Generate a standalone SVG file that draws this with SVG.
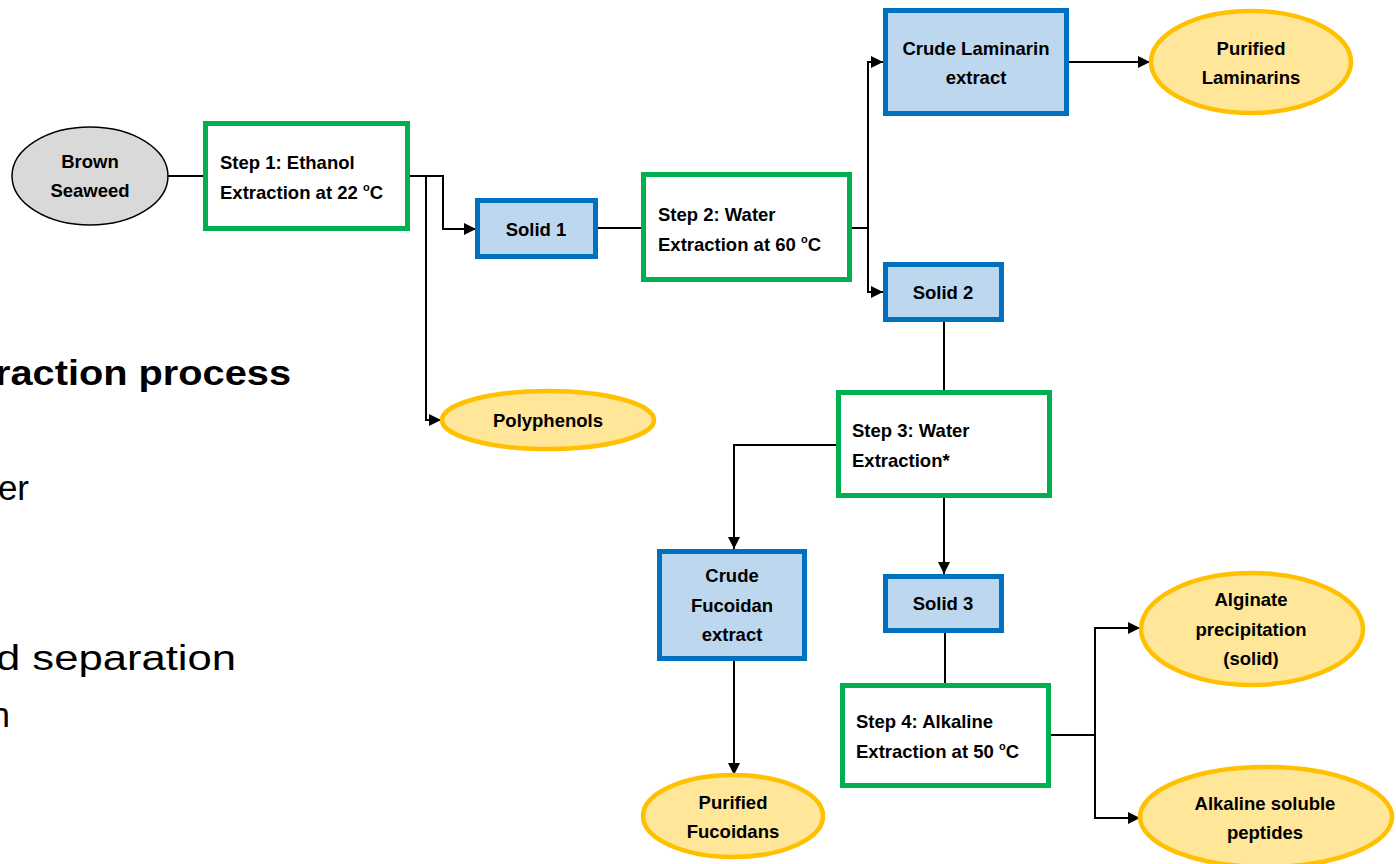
<svg xmlns="http://www.w3.org/2000/svg" width="1396" height="864" viewBox="0 0 1396 864">
<defs>
<marker id="arr" markerUnits="userSpaceOnUse" markerWidth="12" markerHeight="12" viewBox="0 0 12 12" refX="12" refY="6" orient="auto">
<path d="M0,0 L12,6 L0,12 Z" fill="#000"/>
</marker>
<style>
.step{fill:#fff;stroke:#00b050;stroke-width:5}
.solid{fill:#bdd7ee;stroke:#0070c0;stroke-width:5}
.prod{fill:#ffe699;stroke:#ffc000;stroke-width:4.5}
.src{fill:#d9d9d9;stroke:#000;stroke-width:1.5}
.t{font-family:"Liberation Sans",Arial,sans-serif;font-weight:bold;font-size:18.5px;fill:#000}
.c{text-anchor:middle}
.big{font-family:"Liberation Sans",Arial,sans-serif;font-size:35px;fill:#000;text-anchor:end}
.ln{fill:none;stroke:#000;stroke-width:2}
.sup{font-size:11px}
</style>
</defs>
<rect width="1396" height="864" fill="#fff"/>

<g id="slide-text">
<text class="big" x="291" y="385" font-weight="bold" textLength="296" lengthAdjust="spacingAndGlyphs">raction process</text>
<text class="big" x="29" y="500">er</text>
<text class="big" x="236" y="670" textLength="240" lengthAdjust="spacingAndGlyphs">d separation</text>
<text class="big" x="10" y="727">n</text>
</g>

<g id="connectors">
<line class="ln" x1="168" y1="176" x2="205" y2="176"/>
<polyline class="ln" points="408,176 443,176 443,229 476,229" marker-end="url(#arr)"/>
<polyline class="ln" points="426,176 426,420 441,420" marker-end="url(#arr)"/>
<line class="ln" x1="598" y1="228" x2="643" y2="228"/>
<line class="ln" x1="852" y1="228" x2="868" y2="228"/>
<polyline class="ln" points="868,292 868,62 883,62" marker-end="url(#arr)"/>
<polyline class="ln" points="868,228 868,292 883,292" marker-end="url(#arr)"/>
<line class="ln" x1="1068" y1="62" x2="1150" y2="62" marker-end="url(#arr)"/>
<line class="ln" x1="944" y1="321" x2="944" y2="390"/>
<polyline class="ln" points="836,445 734,445 734,549" marker-end="url(#arr)"/>
<line class="ln" x1="944" y1="497" x2="944" y2="574" marker-end="url(#arr)"/>
<line class="ln" x1="734" y1="660" x2="734" y2="775" marker-end="url(#arr)"/>
<line class="ln" x1="945" y1="632" x2="945" y2="683"/>
<line class="ln" x1="1050" y1="735" x2="1095" y2="735"/>
<polyline class="ln" points="1095,735 1095,628 1140,628" marker-end="url(#arr)"/>
<polyline class="ln" points="1095,735 1095,818 1140,818" marker-end="url(#arr)"/>
</g>

<g id="brown-seaweed">
<ellipse class="src" cx="90" cy="176" rx="78" ry="49"/>
<text class="t c" x="90" y="168">Brown</text>
<text class="t c" x="90" y="197">Seaweed</text>
</g>

<g id="step1">
<rect class="step" x="205.5" y="123.5" width="202" height="105"/>
<text class="t" x="220" y="169">Step 1: Ethanol</text>
<text class="t" x="220" y="199">Extraction at 22 <tspan class="sup" dy="-8">o</tspan><tspan dy="8">C</tspan></text>
</g>

<g id="solid1">
<rect class="solid" x="477.5" y="200.5" width="118" height="56"/>
<text class="t c" x="536" y="236">Solid 1</text>
</g>

<g id="polyphenols">
<ellipse class="prod" cx="548" cy="420" rx="106" ry="29"/>
<text class="t c" x="548" y="427">Polyphenols</text>
</g>

<g id="step2">
<rect class="step" x="643.5" y="174.5" width="206" height="105"/>
<text class="t" x="658" y="221">Step 2: Water</text>
<text class="t" x="658" y="251">Extraction at 60 <tspan class="sup" dy="-8">o</tspan><tspan dy="8">C</tspan></text>
</g>

<g id="crude-laminarin">
<rect class="solid" x="885.5" y="10.5" width="181" height="103"/>
<text class="t c" x="976" y="55">Crude Laminarin</text>
<text class="t c" x="976" y="84">extract</text>
</g>

<g id="purified-laminarins">
<ellipse class="prod" cx="1251" cy="62" rx="100" ry="51"/>
<text class="t c" x="1251" y="55">Purified</text>
<text class="t c" x="1251" y="84">Laminarins</text>
</g>

<g id="solid2">
<rect class="solid" x="885.5" y="264.5" width="116" height="55"/>
<text class="t c" x="943" y="299">Solid 2</text>
</g>

<g id="step3">
<rect class="step" x="838.5" y="392.5" width="211" height="103"/>
<text class="t" x="852" y="437">Step 3: Water</text>
<text class="t" x="852" y="467">Extraction*</text>
</g>

<g id="crude-fucoidan">
<rect class="solid" x="659.5" y="551.5" width="145" height="107"/>
<text class="t c" x="732" y="582">Crude</text>
<text class="t c" x="732" y="612">Fucoidan</text>
<text class="t c" x="732" y="641">extract</text>
</g>

<g id="purified-fucoidans">
<ellipse class="prod" cx="733" cy="816" rx="90" ry="41"/>
<text class="t c" x="733" y="809">Purified</text>
<text class="t c" x="733" y="838">Fucoidans</text>
</g>

<g id="solid3">
<rect class="solid" x="885.5" y="576.5" width="116" height="54"/>
<text class="t c" x="943" y="610">Solid 3</text>
</g>

<g id="step4">
<rect class="step" x="842.5" y="685.5" width="206" height="100"/>
<text class="t" x="856" y="728">Step 4: Alkaline</text>
<text class="t" x="856" y="758">Extraction at 50 <tspan class="sup" dy="-8">o</tspan><tspan dy="8">C</tspan></text>
</g>

<g id="alginate">
<ellipse class="prod" cx="1252" cy="629" rx="111" ry="56"/>
<text class="t c" x="1251" y="606">Alginate</text>
<text class="t c" x="1251" y="636">precipitation</text>
<text class="t c" x="1251" y="665">(solid)</text>
</g>

<g id="alkaline-peptides">
<ellipse class="prod" cx="1266" cy="817" rx="126" ry="50"/>
<text class="t c" x="1265" y="810">Alkaline soluble</text>
<text class="t c" x="1265" y="839">peptides</text>
</g>
</svg>
